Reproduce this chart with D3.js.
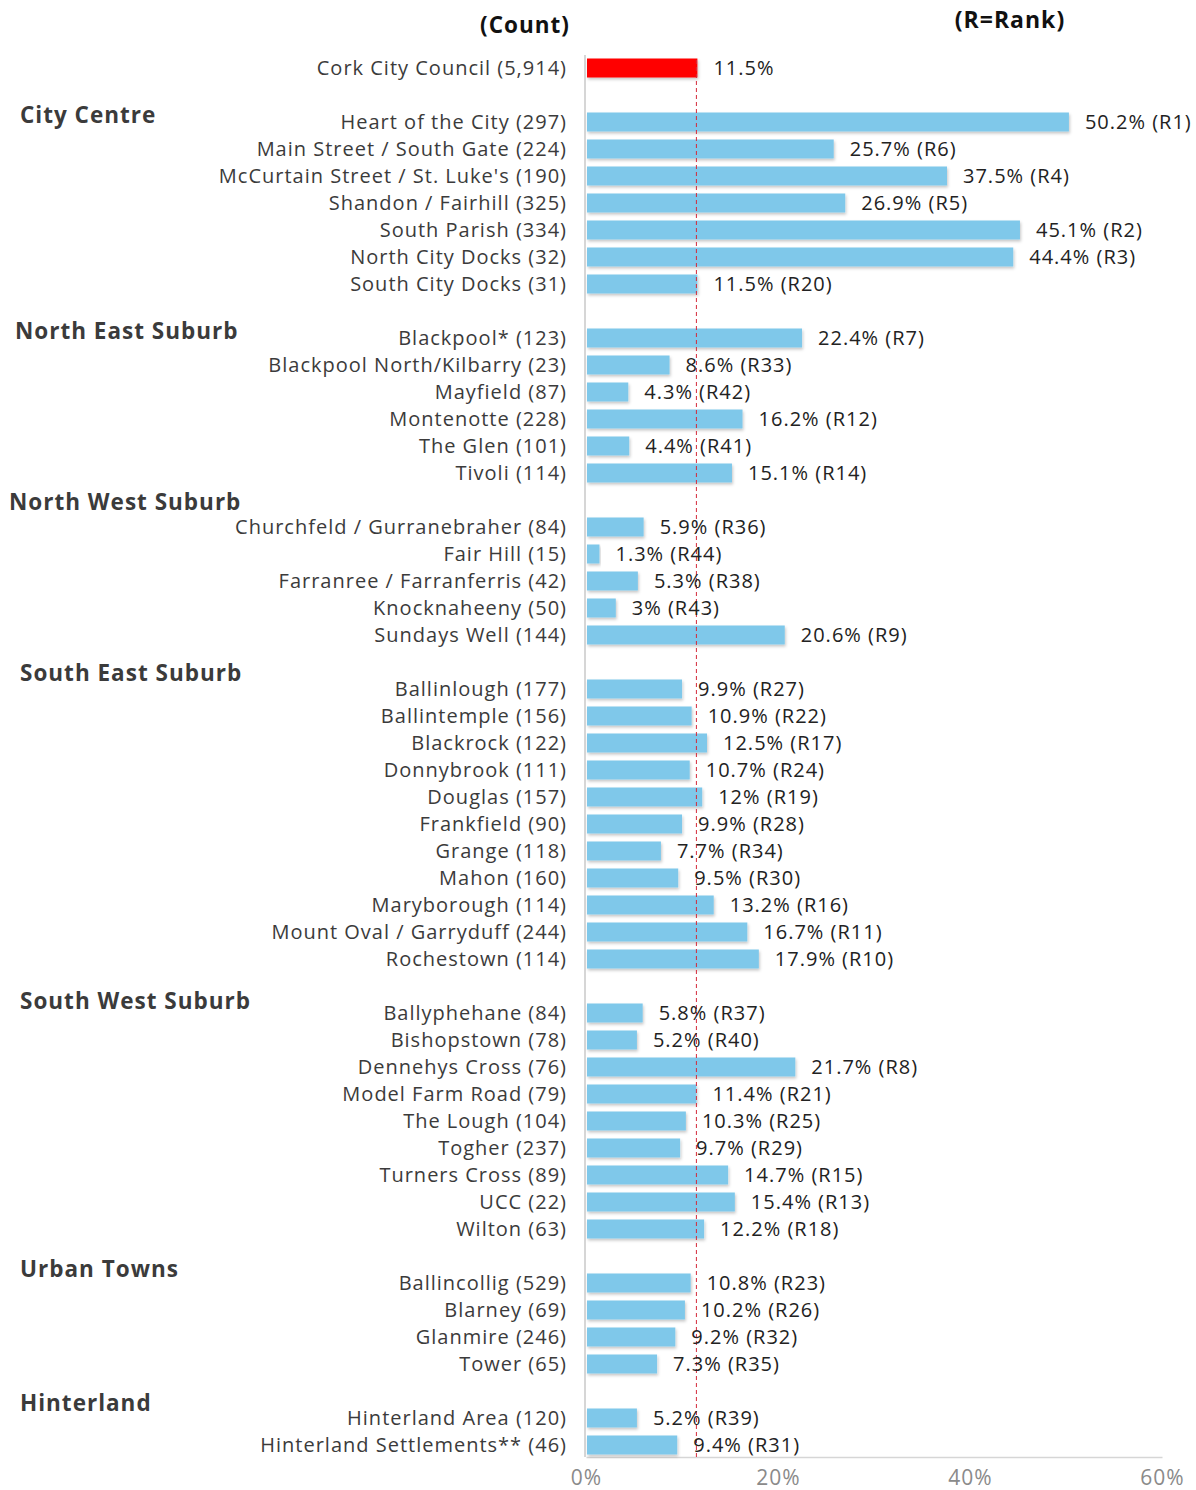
<!DOCTYPE html>
<html>
<head>
<meta charset="utf-8">
<script src="https://cdn.jsdelivr.net/npm/d3@7"></script>
<style>
  body { margin: 0; background: #fff; }
  text { font-family: "Open Sans", sans-serif; letter-spacing: 1px; }
</style>
</head>
<body>
<svg id="chart" width="1196" height="1490"></svg>
<script>
// overall council figure
let totalName = "Cork City Council";
let totalCount = 5914;
let totalValue = 11.5;

let groups = ["City Centre", "North East Suburb", "North West Suburb", "South East Suburb",
  "South West Suburb", "Urban Towns", "Hinterland"];

let areas = [
  ["Heart of the City", "Main Street / South Gate", "McCurtain Street / St. Luke's", "Shandon / Fairhill",
    "South Parish", "North City Docks", "South City Docks"],
  ["Blackpool*", "Blackpool North/Kilbarry", "Mayfield", "Montenotte", "The Glen", "Tivoli"],
  ["Churchfeld / Gurranebraher", "Fair Hill", "Farranree / Farranferris", "Knocknaheeny", "Sundays Well"],
  ["Ballinlough", "Ballintemple", "Blackrock", "Donnybrook", "Douglas", "Frankfield", "Grange", "Mahon",
    "Maryborough", "Mount Oval / Garryduff", "Rochestown"],
  ["Ballyphehane", "Bishopstown", "Dennehys Cross", "Model Farm Road", "The Lough", "Togher",
    "Turners Cross", "UCC", "Wilton"],
  ["Ballincollig", "Blarney", "Glanmire", "Tower"],
  ["Hinterland Area", "Hinterland Settlements**"]
];

let counts = [
  [297, 224, 190, 325, 334, 32, 31],
  [123, 23, 87, 228, 101, 114],
  [84, 15, 42, 50, 144],
  [177, 156, 122, 111, 157, 90, 118, 160, 114, 244, 114],
  [84, 78, 76, 79, 104, 237, 89, 22, 63],
  [529, 69, 246, 65],
  [120, 46]
];

let values = [
  [50.2, 25.7, 37.5, 26.9, 45.1, 44.4, 11.5],
  [22.4, 8.6, 4.3, 16.2, 4.4, 15.1],
  [5.9, 1.3, 5.3, 3, 20.6],
  [9.9, 10.9, 12.5, 10.7, 12, 9.9, 7.7, 9.5, 13.2, 16.7, 17.9],
  [5.8, 5.2, 21.7, 11.4, 10.3, 9.7, 14.7, 15.4, 12.2],
  [10.8, 10.2, 9.2, 7.3],
  [5.2, 9.4]
];

let ranks = [
  [1, 6, 4, 5, 2, 3, 20],
  [7, 33, 42, 12, 41, 14],
  [36, 44, 38, 43, 9],
  [27, 22, 17, 24, 19, 28, 34, 30, 16, 11, 10],
  [37, 40, 8, 21, 25, 29, 15, 13, 18],
  [23, 26, 32, 35],
  [39, 31]
];

let xTicks = [0, 20, 40, 60];

// layout / style
let headerDy = [20, 20, 2, 11, 15, 13, 12];
let headerX = [20, 15, 9, 20, 20, 20, 20];
let barH = 19;
let textColor = "#3b3b3b";
let barColor = "#7fc8ea";

let svg = d3.select("#chart");
let defs = svg.append("defs");
let f = defs.append("filter").attr("id", "shadow").attr("x", "-5%").attr("y", "-30%")
  .attr("width", "115%").attr("height", "170%");
f.append("feDropShadow").attr("dx", 1).attr("dy", 2).attr("stdDeviation", 1.5)
  .attr("flood-color", "#000").attr("flood-opacity", 0.22);

// flatten into rows: total, then blank row + areas per group
let rows = [{ name: totalName, count: totalCount, value: totalValue, rank: null, total: true }];
let heads = [];
groups.forEach((g, gi) => {
  heads.push({ name: g, row: rows.length, gi: gi });
  rows.push(null);
  areas[gi].forEach((a, j) => {
    rows.push({ name: a, count: counts[gi][j], value: values[gi][j], rank: ranks[gi][j], total: false });
  });
});

let x = d3.scaleLinear().domain([0, 60]).range([586, 1162]);
let y = d3.scaleLinear().domain([0, rows.length - 1]).range([68, 1445]);

let items = rows.map((d, i) => d && Object.assign({ i: i }, d)).filter(d => d);

// axes lines
svg.append("line")
  .attr("x1", x(0) - 1).attr("x2", x(0) - 1)
  .attr("y1", 55).attr("y2", 1457)
  .attr("stroke", "#d6d6d6").attr("stroke-width", 2);

let xAxis = svg.append("g")
  .attr("transform", "translate(0,1457)")
  .call(d3.axisBottom(x).tickValues(xTicks).tickSize(0).tickPadding(13).tickFormat(d => d + "%"));
xAxis.select(".domain").attr("stroke", "#d6d6d6").attr("stroke-width", 1.5);
xAxis.selectAll("text")
  .style("font-family", "'Open Sans', sans-serif")
  .style("font-size", "21px")
  .attr("fill", "#8a8a8a");

// bars
svg.append("g").selectAll("rect")
  .data(items)
  .enter()
  .append("rect")
  .attr("x", x(0) + 1)
  .attr("y", d => y(d.i) - barH / 2)
  .attr("width", d => x(d.value) - x(0))
  .attr("height", barH)
  .attr("fill", d => d.total ? "#ff0000" : barColor)
  .attr("filter", "url(#shadow)");

// reference line at council average
svg.append("line")
  .attr("x1", x(totalValue)).attr("x2", x(totalValue))
  .attr("y1", 60).attr("y2", 1457)
  .attr("stroke", "#d42a3a").attr("stroke-width", 1)
  .attr("stroke-dasharray", "4,3");

// area labels
let fmt = d3.format(",");
svg.append("g").selectAll("text")
  .data(items)
  .enter()
  .append("text")
  .text(d => d.name + " (" + fmt(d.count) + ")")
  .attr("x", 567)
  .attr("y", d => y(d.i))
  .attr("dy", "0.35em")
  .attr("text-anchor", "end")
  .attr("fill", textColor)
  .style("font-size", "20px");

// value labels
svg.append("g").selectAll("text")
  .data(items)
  .enter()
  .append("text")
  .text(d => d.value + "%" + (d.rank ? " (R" + d.rank + ")" : ""))
  .attr("x", d => x(d.value) + 17)
  .attr("y", d => y(d.i))
  .attr("dy", "0.35em")
  .attr("fill", "#222")
  .style("font-size", "20px");

// group headers
svg.append("g").selectAll("text")
  .data(heads)
  .enter()
  .append("text")
  .text(d => d.name)
  .attr("x", d => headerX[d.gi])
  .attr("y", d => y(d.row) + headerDy[d.gi])
  .attr("dy", "0.35em")
  .attr("fill", textColor)
  .style("font-size", "22.5px")
  .style("font-weight", "bold");

svg.append("text").text("(Count)")
  .attr("x", 525).attr("y", 25).attr("dy", "0.35em")
  .attr("text-anchor", "middle").attr("fill", "#111")
  .style("font-size", "22.5px").style("font-weight", "bold");

svg.append("text").text("(R=Rank)")
  .attr("x", 1010).attr("y", 20).attr("dy", "0.35em")
  .attr("text-anchor", "middle").attr("fill", "#111")
  .style("font-size", "23px").style("font-weight", "bold");
</script>
</body>
</html>
